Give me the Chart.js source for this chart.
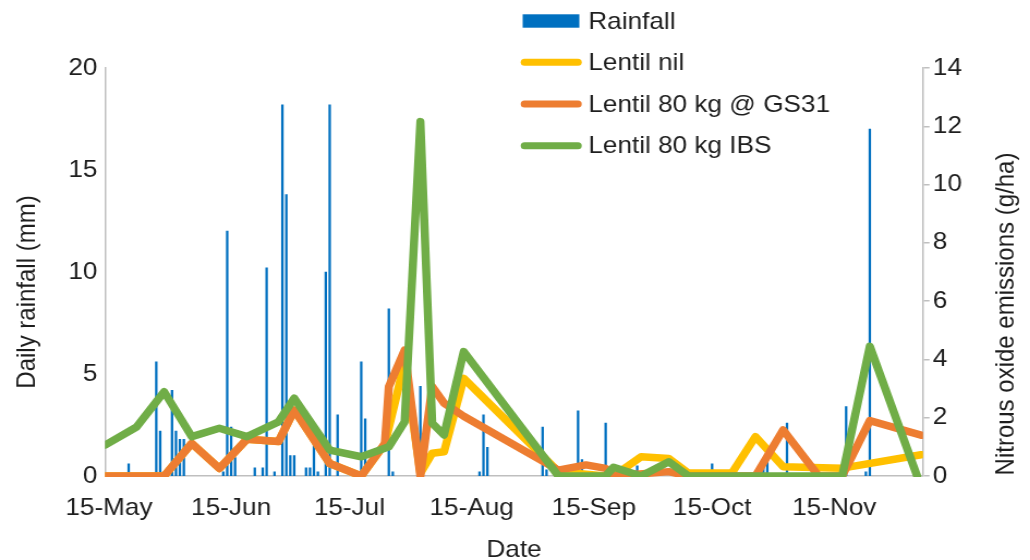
<!DOCTYPE html>
<html>
<head>
<meta charset="utf-8">
<script src="https://cdn.jsdelivr.net/npm/chart.js@4.4.1/dist/chart.umd.min.js"></script>
<style>
  html, body { margin: 0; padding: 0; background: #ffffff; overflow: hidden; }
  /* the chart is drawn a little narrower and widened horizontally */
  #wrap { width: 945px; height: 560px; transform: scaleX(1.09); transform-origin: 0 0; }
</style>
</head>
<body>
<div id="wrap"><canvas id="chart" width="945" height="560"></canvas></div>
<script>
// Daily rainfall (mm); days counted from 15 May
const rainDays = [5, 12, 13, 16, 17, 18, 19, 29, 30, 31, 32, 37, 39, 40, 42, 44, 45, 46, 47,
  50, 51, 52, 53, 55, 56, 58, 64, 65, 71, 72, 79, 94, 95, 96, 110, 111, 119, 120, 126, 134,
  153, 166, 167, 172, 187, 192, 193];
const rainMm = [0.6, 5.6, 2.2, 4.2, 2.2, 1.8, 1.8, 0.2, 12.0, 2.4, 0.9, 0.4, 0.4, 10.2, 0.2, 18.2, 13.8, 1.0, 1.0,
  0.4, 0.4, 1.6, 0.2, 10.0, 18.2, 3.0, 5.6, 2.8, 8.2, 0.2, 4.4, 0.2, 3.0, 1.4, 2.4, 0.3, 3.2, 0.8, 2.6, 0.5,
  0.6, 0.4, 0.7, 2.6, 3.4, 0.2, 17.0];

// Gas sampling days (from 15 May); null = no sample for that treatment
const sampleDays = [-1, 7, 14, 21, 28, 35, 43, 47, 56, 64, 70, 71, 75, 79, 82, 85, 90,
  114, 121, 126, 128, 135, 142, 147, 158, 164, 171, 180, 186, 193, 205, 206];
// Nitrous oxide emissions (g/ha)
const lentilNil = [0, null, 0, 1.12, 0.26, 1.26, 1.18, 2.26, 0.43, 0, 1.1, null, 3.9, 0.1, 0.78, 0.83, 3.35,
  0.15, null, 0, 0, 0.66, 0.6, 0.1, 0.1, 1.35, 0.32, null, 0.27, null, null, 0.73];
const lentilGs31 = [0, null, 0, 1.12, 0.26, 1.26, 1.18, 2.26, 0.43, 0, 1.12, 3.07, 4.32, 0, 3.07, 2.5, 2.05,
  0.2, 0.38, 0.26, 0, null, 0.15, 0, null, 0, 1.58, 0, 0, 1.9, null, 1.4];
const lentilIbs = [1.06, 1.68, 2.89, 1.35, 1.64, 1.35, 1.86, 2.67, 0.89, 0.66, null, 1.0, 1.86, 12.16, 1.81, 1.41, 4.27,
  0, null, 0, 0.3, 0, 0.49, 0, null, null, null, null, 0, 4.45, 0, null];

// Date axis ticks
const dateTickDays = [0, 31, 61, 92, 123, 153, 184];
const dateTickLabels = ['15-May', '15-Jun', '15-Jul', '15-Aug', '15-Sep', '15-Oct', '15-Nov'];

const seriesNames = ['Rainfall', 'Lentil nil', 'Lentil 80 kg @ GS31', 'Lentil 80 kg IBS'];
const seriesColors = ['#0070C0', '#FFC000', '#ED7D31', '#70AD47'];
const xTitle = 'Date';
const leftTitle = 'Daily rainfall (mm)';
const rightTitle = 'Nitrous oxide emissions (g/ha)';

const FONT = "'Liberation Sans', Arial, sans-serif";
const TEXT = '#1e1e1e';
const AXIS = '#BFBFBF';

function points(values) {
  return sampleDays.map((d, i) => ({ x: d, y: values[i] })).filter(p => p.y !== null);
}

function lineSet(idx, values, order) {
  return {
    type: 'line',
    label: seriesNames[idx],
    data: points(values),
    yAxisID: 'y2',
    borderColor: seriesColors[idx],
    backgroundColor: seriesColors[idx],
    borderWidth: 7.5,
    pointRadius: 0,
    tension: 0,
    borderJoinStyle: 'round',
    borderCapStyle: 'round',
    clip: { left: 0, top: 10, right: 0, bottom: 1 },
    order: order
  };
}

// axis titles on the sides and the legend block at the top
const overlay = {
  id: 'overlay',
  afterDraw(chart) {
    const ctx = chart.ctx;
    ctx.save();
    ctx.font = '24px ' + FONT;
    ctx.fillStyle = TEXT;
    ctx.textBaseline = 'middle';
    ctx.textAlign = 'center';

    ctx.save();
    ctx.translate(25.7, 292);
    ctx.rotate(-Math.PI / 2);
    ctx.fillText(leftTitle, 0, 0);
    ctx.restore();

    ctx.save();
    ctx.translate(923, 314);
    ctx.rotate(-Math.PI / 2);
    ctx.fillText(rightTitle, 0, 0);
    ctx.restore();

    // legend
    const rowY = [21, 62.3, 104, 145.7];
    ctx.textAlign = 'left';
    chart.data.datasets.forEach((ds, i) => {
      const y = rowY[i];
      if (ds.type === 'bar') {
        ctx.fillStyle = ds.backgroundColor;
        ctx.fillRect(479.5, y - 6.7, 52, 13.4);
      } else {
        ctx.strokeStyle = ds.borderColor;
        ctx.lineWidth = 7;
        ctx.lineCap = 'round';
        ctx.beginPath();
        ctx.moveTo(481.2, y);
        ctx.lineTo(530.2, y);
        ctx.stroke();
      }
      ctx.fillStyle = TEXT;
      ctx.fillText(ds.label, 539.7, y + 1);
    });
    ctx.restore();
  }
};

new Chart(document.getElementById('chart'), {
  type: 'bar',
  data: {
    datasets: [
      {
        type: 'bar',
        label: seriesNames[0],
        data: rainDays.map((d, i) => ({ x: d, y: rainMm[i] })),
        yAxisID: 'y',
        backgroundColor: seriesColors[0],
        barThickness: 1.6,
        grouped: false,
        order: 4
      },
      lineSet(1, lentilNil, 3),
      lineSet(2, lentilGs31, 2),
      lineSet(3, lentilIbs, 1)
    ]
  },
  options: {
    responsive: false,
    animation: false,
    devicePixelRatio: 1,
    layout: { padding: { top: 68, left: 0, right: 0, bottom: 0 } },
    plugins: { legend: { display: false }, tooltip: { enabled: false } },
    scales: {
      x: {
        type: 'linear',
        min: -1,
        max: 206.5,
        offset: false,
        grid: { display: false, drawTicks: false, offset: false },
        border: { display: true, color: AXIS, width: 1.5 },
        afterBuildTicks: s => { s.ticks = dateTickDays.map(v => ({ value: v })); },
        ticks: {
          autoSkip: false, maxRotation: 0, padding: 18, color: TEXT,
          font: { family: FONT, size: 24 },
          callback: (v, i) => dateTickLabels[i]
        },
        title: { display: true, text: xTitle, color: TEXT, font: { family: FONT, size: 24, lineHeight: 1 }, padding: { top: 0, bottom: -2 } },
        afterFit: s => { s.height = 84; }
      },
      y: {
        position: 'left',
        min: 0, max: 20,
        grid: { display: false, drawTicks: false },
        border: { display: true, color: AXIS, width: 1.5 },
        ticks: { stepSize: 5, padding: 7, color: TEXT, font: { family: FONT, size: 24 } },
        afterFit: s => { s.width = 96.33; }
      },
      y2: {
        position: 'right',
        min: 0, max: 14,
        grid: { display: true, drawOnChartArea: false, drawTicks: true, tickLength: 6, color: AXIS, lineWidth: 1.5 },
        border: { display: true, color: AXIS, width: 1.5 },
        ticks: { stepSize: 2, padding: 3, color: TEXT, font: { family: FONT, size: 24 } },
        afterFit: s => { s.width = 98.2; }
      }
    }
  },
  plugins: [overlay]
});
</script>
</body>
</html>
